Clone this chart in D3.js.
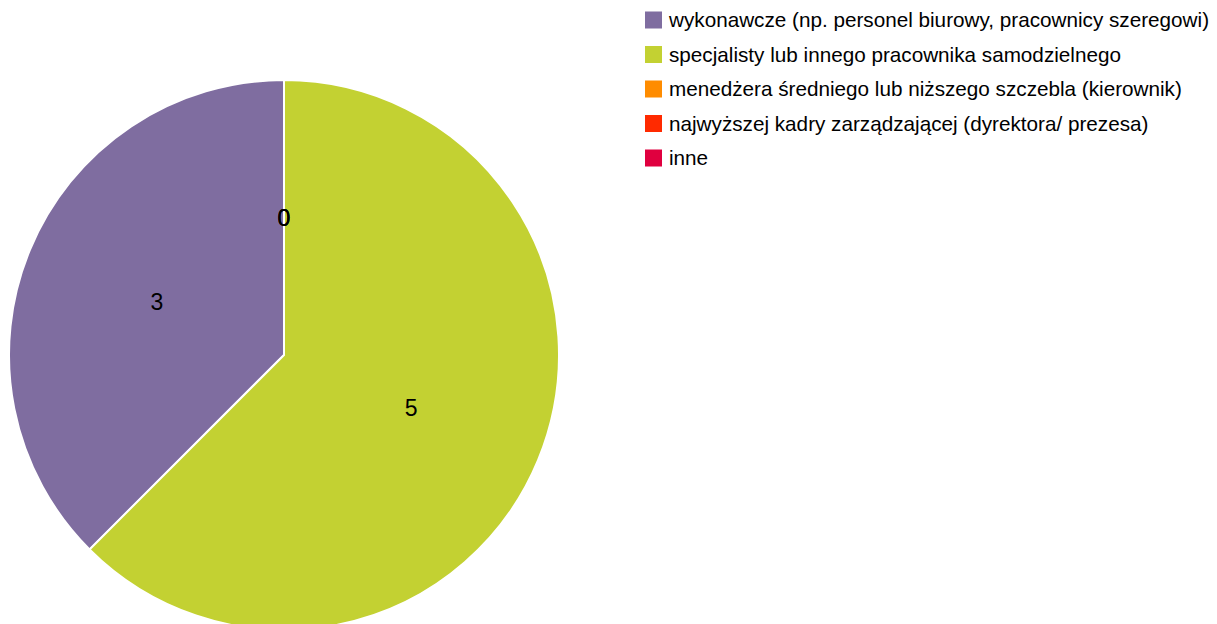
<!DOCTYPE html>
<html>
<head>
<meta charset="utf-8">
<script src="https://cdn.jsdelivr.net/npm/d3@7"></script>
<style>
  body { margin: 0; background: #fff; }
  text { font-family: "Liberation Sans", Arial, sans-serif; }
</style>
</head>
<body>
<div id="vizDiv"></div>
<script>
var width = 1217
var height = 624

// data
var categories = [
  "wykonawcze (np. personel biurowy, pracownicy szeregowi)",
  "specjalisty lub innego pracownika samodzielnego",
  "menedżera średniego lub niższego szczebla (kierownik)",
  "najwyższej kadry zarządzającej (dyrektora/ prezesa)",
  "inne"
]
var values = [3, 5, 0, 0, 0]
var colors = ["#7f6da0", "#c3d132", "#ff8c00", "#ff2a00", "#e0003f"]

var cx = 284, cy = 355, radius = 275
var legendX = 645, legendY = 11.5, legendStep = 34.5

var svg = d3.select("#vizDiv")
  .append("svg")
  .attr("width", width)
  .attr("height", height)

var data = categories.map(function(c, i) {
  return { name: c, value: values[i], color: colors[i] }
})

// counter-clockwise from 12 o'clock
var pie = d3.pie()
  .sort(null)
  .value(function(d) { return d.value })
  .startAngle(0)
  .endAngle(-2 * Math.PI)

var arc = d3.arc().innerRadius(0).outerRadius(radius)
var labelArc = d3.arc().innerRadius(radius * 0.5).outerRadius(radius * 0.5)

var g = svg.append("g").attr("transform", "translate(" + cx + "," + cy + ")")

var arcs = pie(data)

g.selectAll("path")
  .data(arcs)
  .enter()
  .append("path")
  .attr("d", arc)
  .attr("fill", function(d) { return d.data.color })
  .attr("stroke", "#fff")
  .attr("stroke-width", 2)

g.selectAll("text")
  .data(arcs)
  .enter()
  .append("text")
  .attr("transform", function(d) {
    var c = labelArc.centroid({ startAngle: d.startAngle, endAngle: d.endAngle })
    return "translate(" + c[0] + "," + c[1] + ")"
  })
  .attr("text-anchor", "middle")
  .attr("dy", "0.35em")
  .attr("font-size", 23)
  .attr("fill", "#000")
  .text(function(d) { return d.data.value })

// legend
var legend = svg.append("g")
  .selectAll("g")
  .data(data)
  .enter()
  .append("g")
  .attr("transform", function(d, i) { return "translate(" + legendX + "," + (legendY + i * legendStep) + ")" })

legend.append("rect")
  .attr("width", 17)
  .attr("height", 17)
  .attr("fill", function(d) { return d.color })

legend.append("text")
  .attr("x", 24)
  .attr("y", 8.5)
  .attr("dy", "0.35em")
  .attr("font-size", 20.7)
  .attr("fill", "#000")
  .text(function(d) { return d.name })
</script>
</body>
</html>
